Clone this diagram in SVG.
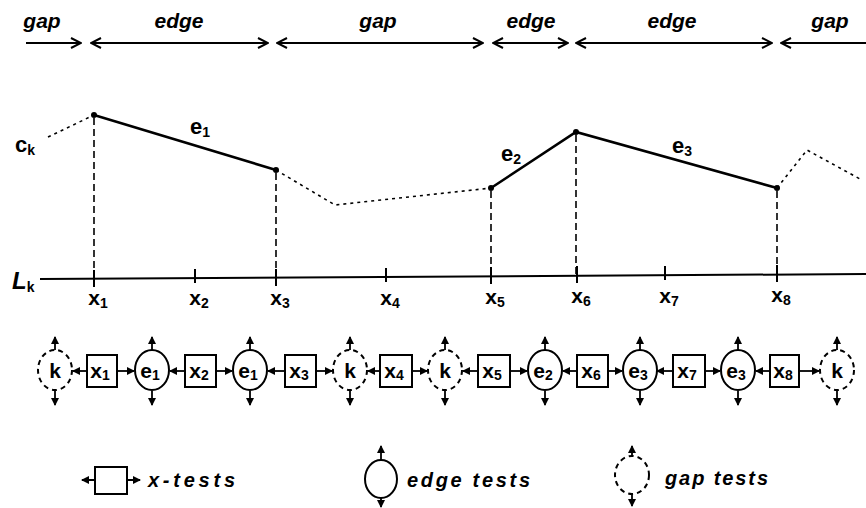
<svg xmlns="http://www.w3.org/2000/svg" width="866" height="508" viewBox="0 0 866 508">
<defs>
<marker id="chev" viewBox="0 0 12 12" refX="11" refY="6" markerWidth="12" markerHeight="12" markerUnits="userSpaceOnUse" orient="auto-start-reverse">
<path d="M1,1 L11,6 L1,11" fill="none" stroke="#000" stroke-width="2"/>
</marker>
<marker id="tri" viewBox="0 0 8 8" refX="7" refY="4" markerWidth="8" markerHeight="8" markerUnits="userSpaceOnUse" orient="auto-start-reverse">
<path d="M0,0 L8,4 L0,8 Z" fill="#000"/>
</marker>
</defs>
<style>
text{font-family:"Liberation Sans",Arial,sans-serif;fill:#000;font-weight:bold}
.top{font-size:21px;font-style:italic;text-anchor:middle}
.lbl{font-size:21px;text-anchor:middle}
.sub{font-size:14px}
.nd{font-size:21px;text-anchor:middle}
.leg{font-size:20px;font-style:italic}
.span{stroke:#000;stroke-width:2;fill:none}
.solid{stroke:#000;stroke-width:2.6;fill:none}
.dotl{stroke:#000;stroke-width:1.6;fill:none;stroke-dasharray:3 4}
.dash{stroke:#000;stroke-width:1.6;fill:none;stroke-dasharray:7 4}
.axis{stroke:#000;stroke-width:2;fill:none}
.edge-n{fill:#fff;stroke:#000;stroke-width:2}
.gap-n{fill:#fff;stroke:#000;stroke-width:2;stroke-dasharray:5 4}
.box{fill:#fff;stroke:#000;stroke-width:2}
.arr{stroke:#000;stroke-width:1.8;fill:none;marker-end:url(#tri)}
</style>

<g id="top-labels">
<text class="top" x="42" y="28">gap</text>
<text class="top" x="179" y="28">edge</text>
<text class="top" x="378" y="28">gap</text>
<text class="top" x="531" y="28">edge</text>
<text class="top" x="672" y="28">edge</text>
<text class="top" x="830" y="28">gap</text>
</g>
<g id="spans">
<line class="span" x1="26" y1="43" x2="81" y2="43" marker-end="url(#chev)"/>
<line class="span" x1="91" y1="43" x2="268" y2="43" marker-start="url(#chev)" marker-end="url(#chev)"/>
<line class="span" x1="277" y1="43" x2="483" y2="43" marker-start="url(#chev)" marker-end="url(#chev)"/>
<line class="span" x1="493" y1="43" x2="568" y2="43" marker-start="url(#chev)" marker-end="url(#chev)"/>
<line class="span" x1="576" y1="43" x2="772" y2="43" marker-start="url(#chev)" marker-end="url(#chev)"/>
<line class="span" x1="781" y1="43" x2="866" y2="43" marker-start="url(#chev)"/>
</g>

<g id="chart">
<text x="15" y="152" style="font-size:22px">c<tspan class="sub" dy="3">k</tspan></text>
<text x="12" y="289" style="font-size:24px;font-style:italic">L<tspan class="sub" dy="3" style="font-style:normal">k</tspan></text>
<line class="axis" x1="40" y1="279" x2="866" y2="274"/>
<g stroke="#000" stroke-width="2">
<line x1="94" y1="270" x2="94" y2="287"/>
<line x1="195" y1="269" x2="195" y2="283"/>
<line x1="276" y1="269" x2="276" y2="286"/>
<line x1="386" y1="268" x2="386" y2="282"/>
<line x1="491" y1="267" x2="491" y2="284"/>
<line x1="577" y1="266" x2="577" y2="283"/>
<line x1="665" y1="266" x2="665" y2="280"/>
<line x1="777" y1="265" x2="777" y2="282"/>
</g>
<polyline class="dotl" points="48,137 94,115"/>
<polyline class="dotl" points="276,170 335,205 491,188"/>
<polyline class="dotl" points="777,188 807,150 860,179"/>
<polyline class="solid" points="94,115 276,170"/>
<polyline class="solid" points="491,188 576,132 777,188"/>
<g fill="#000">
<circle cx="94" cy="115" r="3"/>
<circle cx="276" cy="170" r="3"/>
<circle cx="491" cy="188" r="3"/>
<circle cx="576" cy="132" r="3"/>
<circle cx="777" cy="188" r="3"/>
</g>
<line class="dash" x1="94" y1="118" x2="94" y2="278"/>
<line class="dash" x1="276" y1="173" x2="276" y2="277"/>
<line class="dash" x1="491" y1="191" x2="491" y2="276"/>
<line class="dash" x1="576" y1="135" x2="576" y2="275"/>
<line class="dash" x1="777" y1="191" x2="777" y2="275"/>
<text x="190" y="134" style="font-size:22px">e<tspan class="sub" dy="3">1</tspan></text>
<text x="501" y="161" style="font-size:22px">e<tspan class="sub" dy="3">2</tspan></text>
<text x="672" y="153" style="font-size:22px">e<tspan class="sub" dy="3">3</tspan></text>
<text class="lbl" x="98" y="305">x<tspan class="sub" dy="3">1</tspan></text>
<text class="lbl" x="199" y="305">x<tspan class="sub" dy="3">2</tspan></text>
<text class="lbl" x="280" y="305">x<tspan class="sub" dy="3">3</tspan></text>
<text class="lbl" x="390" y="305">x<tspan class="sub" dy="3">4</tspan></text>
<text class="lbl" x="495" y="304">x<tspan class="sub" dy="3">5</tspan></text>
<text class="lbl" x="581" y="303">x<tspan class="sub" dy="3">6</tspan></text>
<text class="lbl" x="669" y="303">x<tspan class="sub" dy="3">7</tspan></text>
<text class="lbl" x="781" y="302">x<tspan class="sub" dy="3">8</tspan></text>
</g>

<g id="connectors">
<line class="arr" x1="87" y1="371" x2="73" y2="371"/>
<line class="arr" x1="117" y1="371" x2="134" y2="371"/>
<line class="arr" x1="185" y1="371" x2="170" y2="371"/>
<line class="arr" x1="216" y1="371" x2="232" y2="371"/>
<line class="arr" x1="285" y1="371" x2="268" y2="371"/>
<line class="arr" x1="316" y1="371" x2="332" y2="371"/>
<line class="arr" x1="380" y1="371" x2="368" y2="371"/>
<line class="arr" x1="412" y1="371" x2="427" y2="371"/>
<line class="arr" x1="478" y1="371" x2="463" y2="371"/>
<line class="arr" x1="510" y1="371" x2="527" y2="371"/>
<line class="arr" x1="577" y1="371" x2="563" y2="371"/>
<line class="arr" x1="608" y1="371" x2="622" y2="371"/>
<line class="arr" x1="673" y1="371" x2="657" y2="371"/>
<line class="arr" x1="705" y1="371" x2="720" y2="371"/>
<line class="arr" x1="770" y1="371" x2="756" y2="371"/>
<line class="arr" x1="799" y1="371" x2="819" y2="371"/>
<g id="vertical-arrows">
<line class="arr" x1="55" y1="350" x2="55" y2="337"/><line class="arr" x1="55" y1="391" x2="55" y2="405"/>
<line class="arr" x1="152" y1="350" x2="152" y2="337"/><line class="arr" x1="152" y1="391" x2="152" y2="405"/>
<line class="arr" x1="250" y1="350" x2="250" y2="337"/><line class="arr" x1="250" y1="391" x2="250" y2="405"/>
<line class="arr" x1="350" y1="350" x2="350" y2="337"/><line class="arr" x1="350" y1="391" x2="350" y2="405"/>
<line class="arr" x1="445" y1="350" x2="445" y2="337"/><line class="arr" x1="445" y1="391" x2="445" y2="405"/>
<line class="arr" x1="545" y1="350" x2="545" y2="337"/><line class="arr" x1="545" y1="391" x2="545" y2="405"/>
<line class="arr" x1="640" y1="350" x2="640" y2="337"/><line class="arr" x1="640" y1="391" x2="640" y2="405"/>
<line class="arr" x1="738" y1="350" x2="738" y2="337"/><line class="arr" x1="738" y1="391" x2="738" y2="405"/>
<line class="arr" x1="837" y1="350" x2="837" y2="337"/><line class="arr" x1="837" y1="391" x2="837" y2="405"/>
</g>
</g>

<g id="n-k1"><ellipse class="gap-n" cx="55" cy="370" rx="17" ry="20"/><text class="nd" x="55" y="378">k</text></g>
<g id="n-x1"><rect class="box" x="87" y="355" width="30" height="32"/><text class="nd" x="100" y="378">x<tspan class="sub" dy="2">1</tspan></text></g>
<g id="n-e1a"><ellipse class="edge-n" cx="152" cy="370" rx="17" ry="20"/><text class="nd" x="150" y="378">e<tspan class="sub" dy="2">1</tspan></text></g>
<g id="n-x2"><rect class="box" x="185" y="355" width="31" height="32"/><text class="nd" x="199" y="378">x<tspan class="sub" dy="2">2</tspan></text></g>
<g id="n-e1b"><ellipse class="edge-n" cx="250" cy="370" rx="17" ry="20"/><text class="nd" x="248" y="378">e<tspan class="sub" dy="2">1</tspan></text></g>
<g id="n-x3"><rect class="box" x="285" y="355" width="31" height="32"/><text class="nd" x="299" y="378">x<tspan class="sub" dy="2">3</tspan></text></g>
<g id="n-k2"><ellipse class="gap-n" cx="350" cy="370" rx="17" ry="20"/><text class="nd" x="350" y="378">k</text></g>
<g id="n-x4"><rect class="box" x="380" y="355" width="32" height="32"/><text class="nd" x="394" y="378">x<tspan class="sub" dy="2">4</tspan></text></g>
<g id="n-k3"><ellipse class="gap-n" cx="445" cy="370" rx="17" ry="20"/><text class="nd" x="445" y="378">k</text></g>
<g id="n-x5"><rect class="box" x="478" y="355" width="32" height="32"/><text class="nd" x="492" y="378">x<tspan class="sub" dy="2">5</tspan></text></g>
<g id="n-e2"><ellipse class="edge-n" cx="545" cy="370" rx="17" ry="20"/><text class="nd" x="543" y="378">e<tspan class="sub" dy="2">2</tspan></text></g>
<g id="n-x6"><rect class="box" x="577" y="355" width="31" height="32"/><text class="nd" x="591" y="378">x<tspan class="sub" dy="2">6</tspan></text></g>
<g id="n-e3a"><ellipse class="edge-n" cx="640" cy="370" rx="17" ry="20"/><text class="nd" x="638" y="378">e<tspan class="sub" dy="2">3</tspan></text></g>
<g id="n-x7"><rect class="box" x="673" y="355" width="32" height="32"/><text class="nd" x="687" y="378">x<tspan class="sub" dy="2">7</tspan></text></g>
<g id="n-e3b"><ellipse class="edge-n" cx="738" cy="370" rx="17" ry="20"/><text class="nd" x="736" y="378">e<tspan class="sub" dy="2">3</tspan></text></g>
<g id="n-x8"><rect class="box" x="770" y="355" width="29" height="32"/><text class="nd" x="783" y="378">x<tspan class="sub" dy="2">8</tspan></text></g>
<g id="n-k4"><ellipse class="gap-n" cx="837" cy="370" rx="17" ry="20"/><text class="nd" x="837" y="378">k</text></g>

<g id="legend-x">
<rect class="box" x="95" y="467" width="32" height="27"/>
<line class="span" x1="95" y1="480" x2="82" y2="480" marker-end="url(#tri)" stroke-width="1.6"/>
<line class="span" x1="127" y1="480" x2="140" y2="480" marker-end="url(#tri)" stroke-width="1.6"/>
<text class="leg" x="148" y="487" textLength="87" lengthAdjust="spacing">x-tests</text>
</g>
<g id="legend-edge">
<ellipse class="edge-n" cx="381" cy="479" rx="16" ry="19"/>
<line class="arr" x1="381" y1="460" x2="381" y2="446"/>
<line class="arr" x1="381" y1="498" x2="381" y2="507"/>
<text class="leg" x="407" y="487" textLength="123" lengthAdjust="spacing">edge tests</text>
</g>
<g id="legend-gap">
<ellipse class="gap-n" cx="632" cy="475" rx="17" ry="19"/>
<line class="arr" x1="632" y1="456" x2="632" y2="446"/>
<line class="arr" x1="632" y1="494" x2="632" y2="506"/>
<text class="leg" x="665" y="485" textLength="103" lengthAdjust="spacing">gap tests</text>
</g>
</svg>
